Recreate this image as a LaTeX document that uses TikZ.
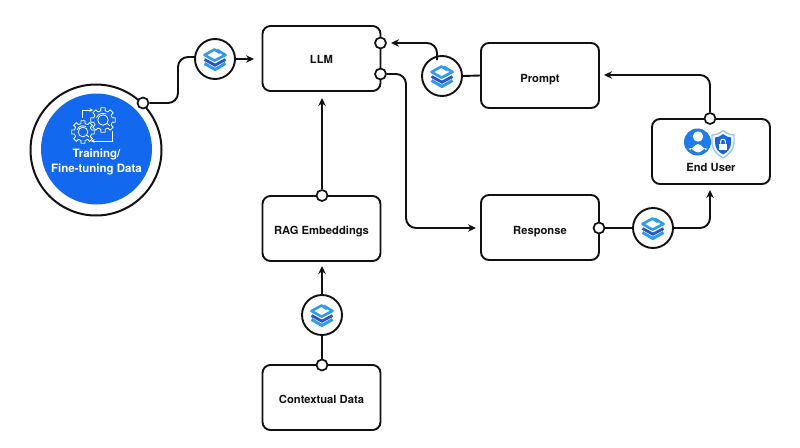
\documentclass[tikz,border=0pt]{standalone}
\usepackage{fontspec}
\setmainfont{TeX Gyre Heros}
\usetikzlibrary{arrows.meta,calc}
\definecolor{ink}{HTML}{111111}
\definecolor{brandblue}{HTML}{1268EE}
\definecolor{skyblue}{HTML}{2F9BEF}
\definecolor{navyblue}{HTML}{2A55C8}
\newcommand{\lowered}[2]{\raisebox{-#1pt}[0pt][0pt]{#2}}
\tikzset{
  x=1pt,y=-1pt,
  labelfont/.style={font=\fontsize{11.2}{13}\selectfont\bfseries,text=ink},
  card/.style={draw=ink,line width=1.9pt,fill=white,rounded corners=8pt,minimum width=118pt,minimum height=65pt,inner sep=0pt,labelfont},
  port/.style={circle,draw=ink,line width=1.7pt,fill=white,minimum size=11pt,inner sep=0pt},
  hub/.style={circle,draw=ink,line width=1.9pt,fill=white,minimum size=40pt,inner sep=0pt},
  link/.style={draw=ink,line width=1.9pt,rounded corners=10pt},
  arrowlink/.style={link,-{Stealth[length=8pt,width=7.5pt]}},
  pics/layers/.style={code={
    \draw[skyblue,line width=3pt,line join=miter] (-10.5,4.5)--(0,10.5)--(10.5,4.5);
    \draw[navyblue,line width=2.8pt,line join=miter] (-10.5,.5)--(0,6.2)--(10.5,.5);
    \draw[skyblue,line width=2.6pt,line join=round] (5,-6)--(-.5,-9.5)--(-10.5,-4)--(-.5,1.6)--(10.5,-4)--(2,-9.2);
  }},
  pics/gear/.style={code={
    \draw[white,line width=.8pt,line join=round]
      \foreach \a in {0,45,...,315}{
        (\a-13:#1*.76) -- (\a-10:#1) -- (\a+10:#1) -- (\a+13:#1*.76) arc[start angle=\a+13,end angle=\a+32,radius=#1*.76] }
      ;
    \draw[white,line width=.8pt] (0,0) circle[radius=#1*.42];
    \draw[white,line width=.8pt] (40:#1*.42) -- (40:#1*.7);
    \draw[white,line width=.8pt] (200:#1*.55) arc[start angle=200,end angle=300,radius=#1*.55];
  }},
}
\begin{document}
\begin{tikzpicture}
\useasboundingbox (0,0) rectangle (800,447);
\fill[white] (0,0) rectangle (800,447);

% cards
\node[card] (llm)  at (321.5,58.5) {\lowered{4.5}{LLM}};
\node[card] (prompt) at (540,75.5) {\lowered{6.5}{Prompt}};
\node[card] (user) at (711,151.5) {};
\node[labelfont,inner sep=0pt] (userlabel) at (711,167.5) {End User};
\node[card] (resp) at (540,227.5) {\lowered{6.5}{Response}};
\node[card] (rag)  at (321.5,228.5) {\lowered{5.5}{RAG Embeddings}};
\node[card] (ctx)  at (321.5,397.5) {\lowered{5.5}{Contextual Data}};

% training circle
\node[circle,draw=ink,line width=2pt,fill=white,minimum size=131pt,inner sep=0pt] (train) at (96,150) {};
\node[circle,fill=brandblue,minimum size=111pt,inner sep=0pt] (trainfill) at (96.5,149) {};
\node[align=center,text=white,font=\fontsize{11.5}{15}\selectfont\bfseries,inner sep=0pt] (trainlabel) at (96.5,162) {Training/\\Fine-tuning Data};

% connectors
\coordinate (e1) at (254,59);
\coordinate (e2) at (391,43);
\coordinate (e3) at (476,228);
\coordinate (e4) at (710,190);
\coordinate (e5) at (604,75);
\coordinate (e6) at (322,98);
\coordinate (e7) at (322,266);
\coordinate (h1in) at (195,57);
\coordinate (h2out) at (437,60);

% hubs
\node[hub] (h1) at (215,59) {};
\node[hub] (h2) at (442,76) {};
\node[hub] (h3) at (653,228) {};
\node[hub] (h4) at (322,315) {};

% ports
\node[port] (ptrain) at (143,103) {};
\node[port] (pllma) at (380.5,43) {};
\node[port] (pllmb) at (380.5,74) {};
\node[port] (puser) at (710,118.5) {};
\node[port] (presp) at (599,228) {};
\node[port] (prag) at (322,195.5) {};
\node[port] (pctx) at (322,365) {};

\draw[link] (ptrain.east) -- (178,103) -- (178,57) -- (h1in);
\draw[arrowlink] (h1.east) -- (e1);
\draw[link] (prompt.west) -- (h2.east);
\draw[arrowlink] (h2out) -- (437,43) -- (e2);
\draw[arrowlink] (pllmb.east) -- (406,74) -- (406,228) -- (e3);
\draw[link] (presp.east) -- (h3.west);
\draw[arrowlink] (h3.east) -- (710,228) -- (e4);
\draw[arrowlink] (puser.north) -- (710,75) -- (e5);
\draw[arrowlink] (prag.north) -- (e6);
\draw[link] (pctx.north) -- (h4.south);
\draw[arrowlink] (h4.north) -- (e7);

% layer icons
\foreach \c in {h1,h2,h3,h4}{ \pic at (\c) {layers}; }

% gears
\pic at (103,120) {gear=12.5};
\pic at (83,132) {gear=11.5};
\draw[white,line width=.7pt,-{Stealth[length=3.5pt,width=3.5pt]}] (82,118) -- (82,110) -- (93,110);
\draw[white,line width=.7pt,-{Stealth[length=3.5pt,width=3.5pt]}] (112,131) -- (112,141) -- (91,141);

% user icon
\fill[skyblue!40!brandblue] (697.5,142) circle[radius=13.5];
\fill[white] (698,136.5) circle[radius=5.2];
\fill[white] (689,149) to[out=-80,in=180] (698,144) to[out=0,in=-100] (707,149) to[out=100,in=0] (698,152.5) to[out=180,in=80] cycle;
\path[fill=white,draw=skyblue!55,line width=1.3pt,line join=round] (723,130.5) .. controls (727,134) and (731,135) .. (734,135) -- (734,143) .. controls (734,150) and (728,155) .. (723,158) .. controls (718,155) and (712,150) .. (712,143) -- (712,135) .. controls (715,135) and (719,134) .. (723,130.5) -- cycle;
\fill[brandblue!75!navyblue] (723,134) .. controls (726,136.5) and (729,137.5) .. (731,137.5) -- (731,143) .. controls (731,148.5) and (727,152.5) .. (723,154.5) .. controls (719,152.5) and (715,148.5) .. (715,143) -- (715,137.5) .. controls (717,137.5) and (720,136.5) .. (723,134) -- cycle;
\fill[white] (719,143.5) rectangle (727,150);
\draw[white,line width=1pt] (720.6,143.5) -- (720.6,141.5) arc[start angle=180,end angle=360,radius=2.4] -- (725.4,143.5);
\end{tikzpicture}
\end{document}
